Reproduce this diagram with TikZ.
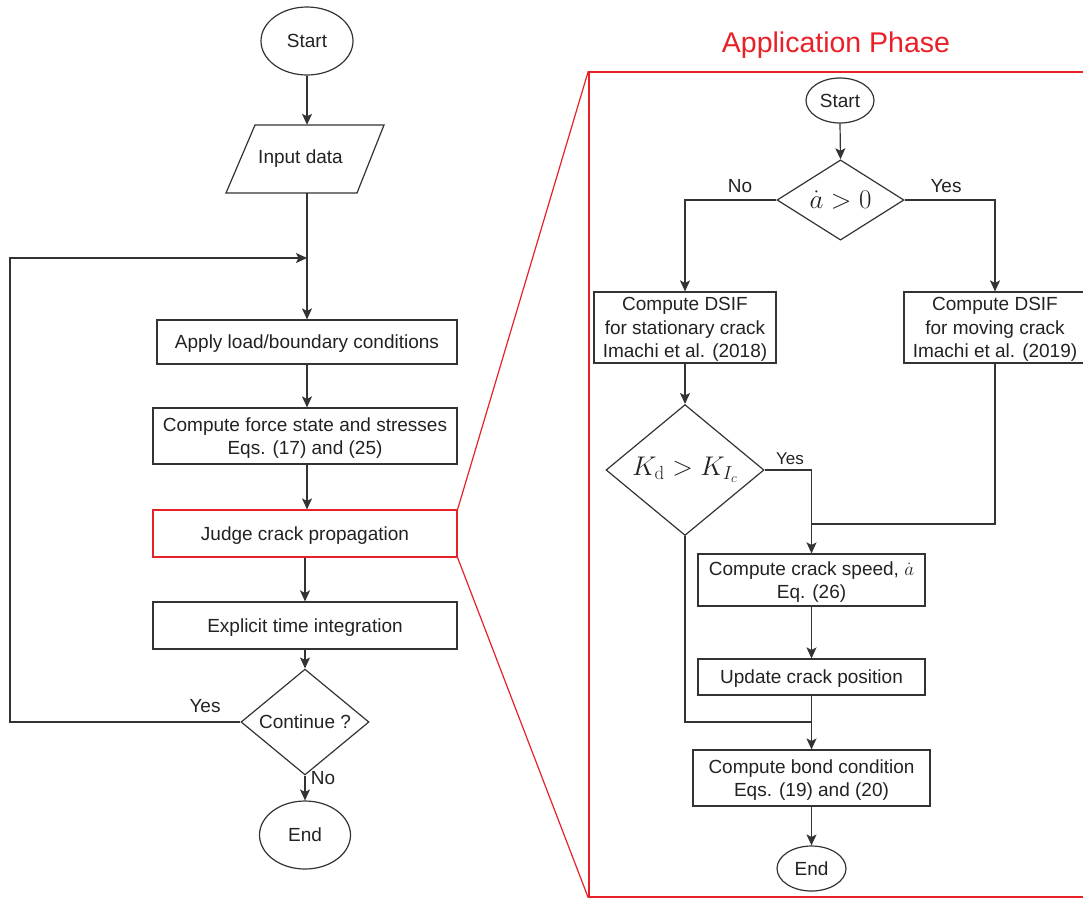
\RequirePackage{fix-cm}
\documentclass[tikz,border=0pt]{standalone}
\usepackage[no-math]{fontspec}
\setmainfont{Liberation Sans}
\usetikzlibrary{shapes.geometric,arrows.meta}
\definecolor{ln}{HTML}{333333}
\definecolor{tx}{HTML}{222222}
\definecolor{rd}{RGB}{232,32,40}
\begin{document}
\begin{tikzpicture}[x=1pt,y=-1pt,
  every node/.style={text=tx, font=\fontsize{19}{23.5}\selectfont},
  box/.style={draw=ln, line width=1.2pt, rectangle, inner sep=0pt, align=center, text depth=-2pt},
  term/.style={draw=ln, line width=1.2pt, ellipse, inner sep=0pt},
  dec/.style={draw=ln, line width=1.2pt, diamond, inner sep=0pt},
  mth/.style={font=\fontsize{27}{30}\selectfont},
  arr/.style={draw=ln, line width=1.2pt, -{Stealth[length=11pt,width=10pt,inset=2.5pt]}},
  con/.style={draw=ln, line width=1.2pt},
  lab/.style={inner sep=0pt}]
\clip (0,0) rectangle (1083,898);
% left flow
\node[term, minimum width=92, minimum height=68] (s1) at (307,41) {Start};
\node[rectangle, inner sep=0pt, minimum width=150, minimum height=68] (in) at (300.5,159) {Input data};
\draw[ln, line width=1.2pt] (255,125) -- (384,125) -- (357,193) -- (226,193) -- cycle;
\node[box, minimum width=300, minimum height=44] (ap) at (307,342) {Apply load/boundary conditions};
\node[box, minimum width=304, minimum height=56] (cf) at (305,436) {Compute force state and stresses\\Eqs. (17) and (25)};
\node[box, draw=rd, minimum width=304, minimum height=47] (jc) at (305,533.5) {Judge crack propagation};
\node[box, minimum width=304, minimum height=47] (ex) at (305,625.5) {Explicit time integration};
\node[dec, minimum width=128, minimum height=80] (ct) at (305,722) {Continue ?};
\node[term, minimum width=91, minimum height=68] (e1) at (305,835) {End};
\node[lab] (ly1) at (205,706) {Yes};
\node[lab] (ln1) at (323,778) {No};
\coordinate (m1) at (307,258);
\coordinate (c1) at (10,722);
\coordinate (c2) at (10,258);

\draw[arr] (s1.south) -- (s1.south |- in.north);
\draw[arr] (s1.south |- in.south) -- (s1.south |- ap.north);
\draw[arr] (ap.south) -- (ap.south |- cf.north);
\draw[arr] (ap.south |- cf.south) -- (ap.south |- jc.north);
\draw[arr] (jc.south) -- (ex.north);
\draw[arr] (ex.south) -- (ct.north);
\draw[arr] (ct.south) -- (e1.north);
\draw[arr] (ct.west) -- (c1) -- (c2) -- (m1);

% frame
\node[draw=rd, line width=1.5pt, rectangle, minimum width=501, minimum height=825, inner sep=0pt] (fr) at (839.5,484.5) {};
\draw[rd, line width=1.2pt] (jc.north east) -- (fr.north west);
\draw[rd, line width=1.2pt] (jc.south east) -- (fr.south west);
\node[text=rd, font=\fontsize{28.5}{30}\selectfont] (ttl) at (836,45) {Application Phase};

% right flow
\node[term, minimum width=68, minimum height=45] (s2) at (840,100.5) {Start};
\node[dec, mth, minimum width=127, minimum height=80] (d1) at (840.5,200) {$\dot a>0$};
\node[lab] (ln2) at (740,186) {No};
\node[lab] (ly2) at (946,186) {Yes};
\node[box, minimum width=182, minimum height=71] (b1) at (685,327.5) {Compute DSIF\\for stationary crack\\Imachi et al. (2018)};
\node[box, minimum width=182, minimum height=71] (b2) at (995,327.5) {Compute DSIF\\for moving crack\\Imachi et al. (2019)};
\node[dec, mth, minimum width=158, minimum height=90] (d2) at (685,470) {$K_{\mathrm{d}}>K_{I_c}$};
\node[lab, font=\fontsize{17}{20}\selectfont] (ly3) at (790,459) {Yes};
\node[box, minimum width=227, minimum height=52] (b3) at (811.5,580) {Compute crack speed, $\dot a$\\Eq. (26)};
\node[box, minimum width=227, minimum height=36] (b4) at (811.5,677) {Update crack position};
\node[box, minimum width=237, minimum height=56] (b5) at (811.5,778) {Compute bond condition\\Eqs. (19) and (20)};
\node[term, minimum width=69, minimum height=45] (e2) at (811.5,868.5) {End};
\coordinate (j1) at (811.5,524);
\coordinate (j2) at (811.5,722);

\draw[arr] (s2.south) -- (d1.north);
\draw[arr] (d1.west) -| (b1.north);
\draw[arr] (d1.east) -| (b2.north);
\draw[arr] (b1.south) -- (d2.north);
\draw[arr] (d2.east) -| (b3.north);
\draw[con] (b2.south) |- (j1);
\draw[arr] (b3.south) -- (b4.north);
\draw[con] (d2.south) |- (j2);
\draw[arr] (b4.south) -- (b5.north);
\draw[arr] (b5.south) -- (e2.north);
\end{tikzpicture}
\end{document}
